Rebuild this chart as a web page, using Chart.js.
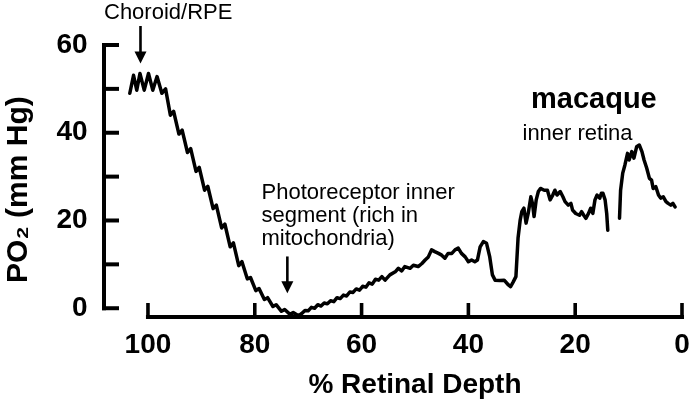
<!DOCTYPE html>
<html><head><meta charset="utf-8">
<script src="https://cdn.jsdelivr.net/npm/chart.js@4"></script>
<style>html,body{margin:0;padding:0;background:#fff;}</style>
</head><body>
<canvas id="c" width="689" height="412"></canvas>
<script>
// % retinal depth (x) and PO2 in mm Hg (y); null marks the gap in the trace
const depth = [
 103.4, 102.7, 102.1, 101.5, 100.7, 99.9, 99.1, 98.3,
 97.4, 96.7, 95.8, 95.2, 94.2, 93.6, 92.6, 92.0, 91.0, 90.4, 89.4, 88.8, 87.8, 87.2, 86.2, 85.6, 84.6, 84.0, 83.0, 82.4,
 81.4, 80.8, 79.8, 79.2, 78.2, 77.6, 76.6, 76.0, 75.0, 74.4, 73.4, 72.8, 71.8,
 71.2, 70.6, 70.0, 69.4, 68.8, 68.2, 67.6, 67.0, 66.4, 65.8, 65.2, 64.6, 64.0, 63.4, 62.8, 62.2, 61.6, 61.0, 60.4, 59.8, 59.2, 58.6, 58.0, 57.4, 56.8, 56.2,
 55.6, 54.7, 53.7, 53.1, 52.5, 51.9, 50.9, 50.3, 49.4, 48.7, 48.1, 47.5, 46.9, 46.3, 45.6, 45.0, 44.4, 43.8, 43.1, 42.5, 41.9, 41.3, 40.6, 40.0, 39.4, 38.8, 38.3, 37.8, 37.2, 36.6, 36.0, 35.5, 35.0, 34.1, 33.3, 32.5, 32.1, 31.6, 31.1,
 30.7, 30.3, 30.0, 29.6, 29.2, 28.8, 28.3, 28.0, 27.7, 27.3, 26.9, 26.5, 25.8, 25.2, 24.7, 24.2, 23.8, 23.4, 22.8, 22.3, 21.9, 21.3, 20.8, 20.5, 19.9, 19.2, 18.8, 18.4, 18.0, 17.5, 17.1, 16.7, 16.3, 15.9, 15.4, 15.1, 14.8, 14.4, 14.1, 13.9,
 12.8,
 11.7, 11.5, 11.1, 10.7, 10.2, 9.9, 9.4, 9.0, 8.5, 8.0, 7.5, 7.1, 6.6, 6.1, 5.7, 5.4, 4.9, 4.4, 4.0, 3.5, 3.0, 2.6, 2.1, 1.7, 1.3
];
const po2 = [
 49.0, 53.1, 49.7, 53.5, 49.7, 53.5, 49.7, 52.8,
 49.0, 50.0, 44.0, 44.9, 39.7, 40.6, 35.5, 36.4, 31.2, 32.1, 26.9, 27.8, 22.7, 23.5, 18.3, 19.2, 14.0, 14.9, 9.7, 10.6,
 6.7, 7.0, 4.0, 4.5, 2.0, 2.4, 0.4, 0.8, -0.7, -0.3, -1.4, -1.0, -1.7,
 -1.2, -0.5, -0.6, 0.2, 0.0, 0.8, 0.5, 1.2, 1.0, 1.7, 1.5, 2.4, 2.2, 3.0, 2.8, 3.7, 3.6, 4.4, 4.1, 5.0, 4.8, 5.8, 5.5, 6.6, 6.4, 7.2,
 6.4, 7.6, 8.3, 9.1, 8.5, 9.5, 9.1, 9.8, 9.5, 10.2, 11.0, 11.7, 13.3, 12.9, 12.5, 12.1, 11.4, 12.5, 12.5, 13.3, 13.7, 12.5, 11.7, 10.6, 11.0, 10.6, 11.0, 14.0, 15.2, 14.8, 11.7, 7.6, 6.4, 6.3, 6.4, 5.3, 4.9, 6.0, 7.2,
 16.0, 20.1, 22.0, 22.8, 19.4, 21.6, 25.4, 23.9, 20.9, 24.7, 26.6, 27.3, 26.9, 26.9, 24.7, 25.8, 26.9, 25.8, 26.6, 25.4, 24.3, 23.5, 23.9, 22.4, 21.6, 21.2, 22.0, 21.2, 20.5, 21.6, 22.8, 21.6, 24.7, 25.8, 25.1, 26.2, 26.2, 24.7, 21.6, 17.8,
 null,
 20.5, 26.9, 30.8, 32.6, 35.3, 33.8, 35.7, 34.2, 36.8, 37.2, 35.7, 33.8, 31.9, 29.6, 29.2, 27.3, 27.7, 25.8, 25.1, 25.4, 24.3, 23.9, 23.5, 23.9, 23.1
];
const xTickLabels = [100, 80, 60, 40, 20, 0];
const yTickLabels = [0, 20, 40, 60];
const yAxisMarks = [0, 10, 20, 30, 40, 50, 60];
const xTitle = '% Retinal Depth';
const yTitle = 'PO\u2082 (mm Hg)';

const FONT = '"Liberation Sans", Arial, Helvetica, sans-serif';

const decor = {
  id: 'decor',
  afterDraw(chart) {
    const ctx = chart.ctx, xs = chart.scales.x, ys = chart.scales.y, a = chart.chartArea;
    ctx.save();
    ctx.strokeStyle = '#000'; ctx.fillStyle = '#000';
    ctx.lineWidth = 4; ctx.lineCap = 'butt'; ctx.lineJoin = 'miter';
    // detached y axis with inward ticks
    const yx = a.left - 22.6;
    const yTop = ys.getPixelForValue(60), yBot = ys.getPixelForValue(0);
    ctx.beginPath();
    ctx.moveTo(yx, yTop - 2); ctx.lineTo(yx, yBot + 2);
    ctx.stroke();
    yAxisMarks.forEach(v => {
      const p = ys.getPixelForValue(v);
      ctx.beginPath(); ctx.moveTo(yx - 2, p); ctx.lineTo(yx + 15, p); ctx.stroke();
    });
    // x axis along the bottom, from 100 to 0, ticks pointing up
    const xb = a.bottom;
    const x100 = xs.getPixelForValue(100), x0 = xs.getPixelForValue(0);
    ctx.beginPath(); ctx.moveTo(x100 - 2, xb); ctx.lineTo(x0 + 2, xb); ctx.stroke();
    ctx.lineWidth = 3.6;
    xTickLabels.forEach(v => {
      const p = xs.getPixelForValue(v);
      ctx.beginPath(); ctx.moveTo(p, xb); ctx.lineTo(p, xb - 14); ctx.stroke();
    });

    // axis titles
    ctx.textAlign = 'center'; ctx.textBaseline = 'middle';
    ctx.font = 'bold 28px ' + FONT;
    ctx.fillText(xTitle, (x100 + x0) / 2, 385);
    ctx.save();
    ctx.translate(19, (yTop + yBot) / 2 + 13);
    ctx.rotate(-Math.PI / 2);
    ctx.font = 'bold 30px ' + FONT;
    ctx.fillText(yTitle, 0, 0);
    ctx.restore();

    // arrows
    function arrow(x, y1, y2) {
      ctx.lineWidth = 2.6;
      ctx.beginPath(); ctx.moveTo(x, y1); ctx.lineTo(x, y2 - 8); ctx.stroke();
      ctx.beginPath(); ctx.moveTo(x - 6, y2 - 12); ctx.lineTo(x + 6, y2 - 12); ctx.lineTo(x, y2); ctx.closePath(); ctx.fill();
    }
    arrow(xs.getPixelForValue(101.4), 26, ys.getPixelForValue(55.8));
    arrow(xs.getPixelForValue(73.9), ys.getPixelForValue(11.8), ys.getPixelForValue(3.4));

    // annotation texts
    ctx.textAlign = 'left'; ctx.textBaseline = 'alphabetic';
    ctx.font = '22px ' + FONT;
    ctx.fillText('Choroid/RPE', 104, 19);
    ctx.fillText('Photoreceptor inner', 261.5, 199);
    ctx.fillText('segment (rich in', 261.5, 222);
    ctx.fillText('mitochondria)', 261.5, 245);
    ctx.fillText('inner retina', 522.5, 140);
    ctx.font = 'bold 29px ' + FONT;
    ctx.fillText('macaque', 531, 108);
    ctx.restore();
  }
};

new Chart(document.getElementById('c'), {
  type: 'line',
  data: {
    datasets: [{
      data: depth.map((d, i) => ({ x: d, y: po2[i] })),
      borderColor: '#000',
      borderWidth: 3.5,
      borderJoinStyle: 'round',
      borderCapStyle: 'round',
      pointRadius: 0,
      tension: 0,
      spanGaps: false,
      fill: false
    }]
  },
  options: {
    responsive: false,
    animation: false,
    events: [],
    layout: { padding: { left: 0, right: 7, top: 45, bottom: 0 } },
    plugins: { legend: { display: false }, tooltip: { enabled: false } },
    scales: {
      x: {
        type: 'linear', reverse: true, min: 0, max: 104,
        afterBuildTicks: s => { s.ticks = xTickLabels.map(v => ({ value: v })); },
        afterFit: s => { s.height = 95; s.paddingLeft = 0; s.paddingRight = 0; },
        grid: { display: false, drawTicks: false },
        border: { display: false },
        ticks: { font: { family: FONT, size: 28, weight: 'bold' }, color: '#000', padding: 11, maxRotation: 0, autoSkip: false },
        title: { display: false }
      },
      y: {
        type: 'linear', min: -2, max: 60,
        afterBuildTicks: s => { s.ticks = yTickLabels.map(v => ({ value: v })); },
        afterFit: s => { s.width = 126.6; s.paddingTop = 0; s.paddingBottom = 0; },
        grid: { display: false, drawTicks: false },
        border: { display: false },
        ticks: { font: { family: FONT, size: 28, weight: 'bold' }, color: '#000', padding: 39 },
        title: { display: false }
      }
    }
  },
  plugins: [decor]
});
</script>
</body></html>
